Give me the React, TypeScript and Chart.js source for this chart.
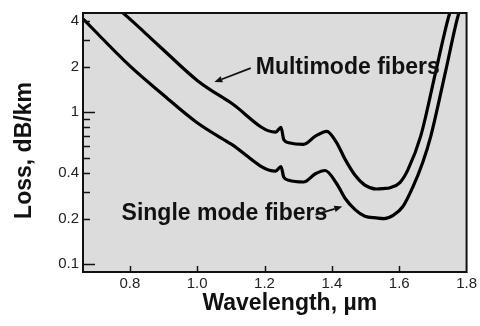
import React, { useEffect, useRef } from "react";
import { Chart, registerables } from "chart.js";

Chart.register(...registerables);

// ---- data (wavelength in µm, loss in dB/km) ----
const singleModeX = [0.661, 0.8, 0.898, 0.998, 1.1, 1.233, 1.249, 1.257, 1.272, 1.316, 1.351, 1.38, 1.414, 1.439, 1.469, 1.498, 1.532, 1.555, 1.582, 1.611, 1.641, 1.67, 1.694, 1.738, 1.776, 1.79];
const singleModeY = [4.12, 2.02, 1.31, 0.861, 0.62, 0.41, 0.44, 0.375, 0.357, 0.348, 0.394, 0.414, 0.34, 0.272, 0.229, 0.207, 0.202, 0.2, 0.21, 0.24, 0.324, 0.469, 0.7, 1.875, 4.42, 5.3];

const multiModeX = [0.75, 0.78, 0.888, 1.001, 1.1, 1.233, 1.249, 1.257, 1.272, 1.316, 1.351, 1.385, 1.414, 1.439, 1.469, 1.498, 1.532, 1.552, 1.573, 1.602, 1.626, 1.664, 1.709, 1.749, 1.76];
const multiModeY = [5.05, 4.49, 2.72, 1.615, 1.155, 0.74, 0.796, 0.662, 0.631, 0.615, 0.696, 0.75, 0.631, 0.492, 0.385, 0.332, 0.313, 0.315, 0.319, 0.345, 0.42, 0.7, 1.875, 4.42, 5.05];

const xTicks = [0.8, 1.0, 1.2, 1.4, 1.6, 1.8];
const yTicks = [0.1, 0.2, 0.4, 1, 2, 4];
const yMinorTicks = [0.3, 0.5, 0.6, 0.7, 0.8, 0.9, 3];
const yLongTicks = [0.1, 1];

const xTitle = "Wavelength, µm";
const yTitle = "Loss, dB/km";

const labels = [
  { text: "Multimode fibers", x: 1.174, y: 1.79, tail: [1.159, 1.95], tip: [1.051, 1.58] },
  { text: "Single mode fibers", x: 0.7755, y: 0.197, tail: [1.351, 0.212], tip: [1.431, 0.24] },
];

const FONT = "'Liberation Sans', Arial, Helvetica, sans-serif";

const decorPlugin = {
  id: "decor",
  beforeDraw(chart: any) {
    const { ctx, chartArea: a } = chart;
    ctx.save();
    ctx.fillStyle = "#dcdcdc";
    ctx.fillRect(a.left, a.top, a.right - a.left, a.bottom - a.top);
    ctx.restore();
  },
  afterDatasetsDraw(chart: any) {
    const { ctx, chartArea: a } = chart;
    const xs = chart.scales.x;
    const ys = chart.scales.y;
    ctx.save();
    // frame
    ctx.strokeStyle = "#111";
    ctx.lineWidth = 2;
    ctx.strokeRect(a.left, a.top, a.right - a.left, a.bottom - a.top);
    // inward ticks
    ctx.lineWidth = 1.5;
    ctx.beginPath();
    [...yTicks, ...yMinorTicks].forEach((v) => {
      const py = Math.round(ys.getPixelForValue(v)) + 0.5;
      const len = yLongTicks.includes(v) ? 12 : 7;
      ctx.moveTo(a.left, py);
      ctx.lineTo(a.left + len, py);
    });
    xTicks.slice(0, -1).forEach((v) => {
      const px = Math.round(xs.getPixelForValue(v)) + 0.5;
      ctx.moveTo(px, a.bottom);
      ctx.lineTo(px, a.bottom - 6);
    });
    ctx.stroke();

    // annotations
    ctx.fillStyle = "#111";
    ctx.font = `bold 23px ${FONT}`;
    ctx.textAlign = "left";
    ctx.textBaseline = "alphabetic";
    labels.forEach((l) => {
      ctx.fillText(l.text, xs.getPixelForValue(l.x), ys.getPixelForValue(l.y));
      const x0 = xs.getPixelForValue(l.tail[0]);
      const y0 = ys.getPixelForValue(l.tail[1]);
      const x1 = xs.getPixelForValue(l.tip[0]);
      const y1 = ys.getPixelForValue(l.tip[1]);
      const ang = Math.atan2(y1 - y0, x1 - x0);
      const hl = 8, hw = 3.2;
      const bx = x1 - hl * Math.cos(ang);
      const by = y1 - hl * Math.sin(ang);
      ctx.lineWidth = 1.8;
      ctx.beginPath();
      ctx.moveTo(x0, y0);
      ctx.lineTo(bx, by);
      ctx.stroke();
      ctx.beginPath();
      ctx.moveTo(x1, y1);
      ctx.lineTo(bx + hw * Math.sin(ang), by - hw * Math.cos(ang));
      ctx.lineTo(bx - hw * Math.sin(ang), by + hw * Math.cos(ang));
      ctx.closePath();
      ctx.fill();
    });

    // axis titles
    ctx.font = `bold 23px ${FONT}`;
    ctx.textAlign = "center";
    ctx.fillText(xTitle, (a.left + a.right) / 2 + 15, a.bottom + 38);
    ctx.translate(a.left - 52, (a.top + a.bottom) / 2 + 8);
    ctx.rotate(-Math.PI / 2);
    ctx.fillText(yTitle, 0, 0);
    ctx.restore();
  },
};

export default function App() {
  const canvasRef = useRef<HTMLCanvasElement | null>(null);

  useEffect(() => {
    const canvas = canvasRef.current;
    if (!canvas) return;
    const chart = new Chart(canvas, {
      type: "line",
      data: {
        datasets: [
          {
            label: "Multimode fibers",
            data: multiModeX.map((x, i) => ({ x, y: multiModeY[i] })),
            borderColor: "#000",
            borderWidth: 3.2,
            pointRadius: 0,
            cubicInterpolationMode: "monotone",
            fill: false,
          },
          {
            label: "Single mode fibers",
            data: singleModeX.map((x, i) => ({ x, y: singleModeY[i] })),
            borderColor: "#000",
            borderWidth: 3.2,
            pointRadius: 0,
            cubicInterpolationMode: "monotone",
            fill: false,
          },
        ],
      },
      options: {
        animation: false,
        responsive: true,
        maintainAspectRatio: false,
        layout: { padding: { top: 9, right: 11, left: 0, bottom: 0 } },
        plugins: { legend: { display: false }, tooltip: { enabled: false } },
        scales: {
          x: {
            type: "linear",
            min: 0.661,
            max: 1.8,
            afterBuildTicks: (s: any) => {
              s.ticks = xTicks.map((v) => ({ value: v }));
            },
            afterFit: (s: any) => {
              s.height = 54;
            },
            grid: { display: false, drawTicks: false },
            border: { display: false },
            ticks: {
              padding: 3,
              maxRotation: 0,
              color: "#222",
              font: { family: FONT, size: 15 },
              callback: (v: any) => Number(v).toFixed(1),
            },
          },
          y: {
            type: "logarithmic",
            min: 0.089,
            max: 4.5,
            afterBuildTicks: (s: any) => {
              s.ticks = yTicks.map((v) => ({ value: v }));
            },
            afterFit: (s: any) => {
              s.width = 83;
            },
            grid: { display: false, drawTicks: false },
            border: { display: false },
            ticks: {
              padding: 4,
              color: "#222",
              font: { family: FONT, size: 15 },
              callback: (v: any) => String(Number(v)),
            },
          },
        },
      },
      plugins: [decorPlugin],
    });
    return () => chart.destroy();
  }, []);

  return (
    <div style={{ position: "fixed", left: 0, top: 0, width: 480, height: 326, background: "#fff" }}>
      <canvas ref={canvasRef} />
    </div>
  );
}
